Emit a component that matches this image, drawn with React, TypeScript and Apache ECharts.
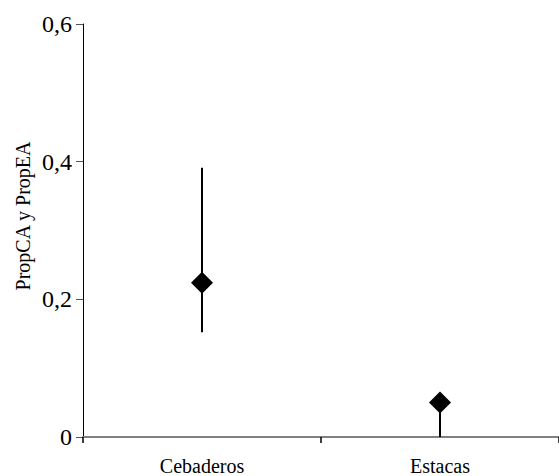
import React, { useEffect, useRef } from "react";
import * as echarts from "echarts";

// Group means with their interval bounds
const categories = ["Cebaderos", "Estacas"];
const means = [0.224, 0.05];
const lower = [0.152, 0];
const upper = [0.391, 0.05];
const yTicks = [0, 0.2, 0.4, 0.6];
const yTitle = "PropCA y PropEA";

const FONT = "'Liberation Serif', 'Times New Roman', serif";

export default function App() {
  const ref = useRef<HTMLDivElement>(null);

  useEffect(() => {
    if (!ref.current) return;
    const chart = echarts.init(ref.current, undefined, { renderer: "svg" });

    const errData = categories.map((_, i) => [i, lower[i], upper[i]]);

    chart.setOption({
      animation: false,
      backgroundColor: "#ffffff",
      grid: { left: 83, right: -4, top: 24, bottom: 39 },
      xAxis: {
        type: "category",
        data: categories,
        boundaryGap: true,
        axisLine: { lineStyle: { color: "#808080", width: 2 } },
        axisTick: { show: true, length: 6, lineStyle: { color: "#000", width: 1.5 } },
        axisLabel: { color: "#000", fontFamily: FONT, fontSize: 20, margin: 19 },
      },
      yAxis: {
        type: "value",
        min: yTicks[0],
        max: yTicks[yTicks.length - 1],
        interval: yTicks[1] - yTicks[0],
        splitLine: { show: false },
        axisLine: { show: true, lineStyle: { color: "#000", width: 1 } },
        axisTick: { show: true, length: 7, lineStyle: { color: "#555", width: 1 } },
        axisLabel: {
          color: "#000",
          fontFamily: FONT,
          fontSize: 24,
          margin: 11,
          formatter: (v: number) => (v === 0 ? "0" : v.toFixed(1).replace(".", ",")),
        },
      },
      graphic: [
        {
          type: "text",
          x: 23,
          y: 216,
          rotation: Math.PI / 2,
          style: {
            text: yTitle,
            font: `20px ${FONT}`,
            fill: "#000",
            align: "center",
            verticalAlign: "middle",
          },
        },
      ],
      series: [
        {
          type: "custom",
          data: errData,
          z: 2,
          renderItem: (params: any, api: any) => {
            const x = api.value(0);
            const p1 = api.coord([x, api.value(1)]);
            const p2 = api.coord([x, api.value(2)]);
            return {
              type: "line",
              shape: { x1: p1[0], y1: p1[1], x2: p2[0], y2: p2[1] },
              style: { stroke: "#000", lineWidth: 2 },
            };
          },
        },
        {
          type: "scatter",
          data: means,
          symbol: "diamond",
          symbolSize: 22,
          z: 3,
          itemStyle: { color: "#000", opacity: 1 },
        },
      ],
    });

    return () => chart.dispose();
  }, []);

  return (
    <div
      ref={ref}
      style={{ position: "absolute", left: 0, top: 0, width: 559, height: 476 }}
    />
  );
}
